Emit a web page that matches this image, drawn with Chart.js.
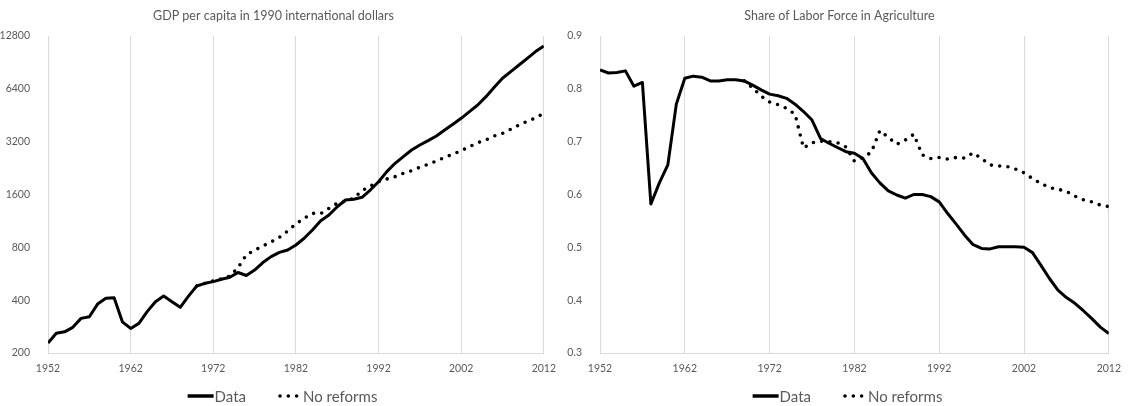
<!DOCTYPE html>
<html>
<head>
<meta charset="utf-8">
<script src="https://cdn.jsdelivr.net/npm/chart.js@4.4.0/dist/chart.umd.min.js"></script>
<style>
  body { margin: 0; background: #fff; }
  .wrap { position: absolute; top: 0; width: 565px; height: 406px; }
</style>
</head>
<body>
<div class="wrap" style="left:0"><canvas id="gdp-chart" width="565" height="406"></canvas></div>
<div class="wrap" style="left:565px"><canvas id="agri-chart" width="565" height="406"></canvas></div>
<script>
// years 1952..2012, one value per year
const years = Array.from({ length: 61 }, (_, i) => 1952 + i);
const yearTicks = [1952, 1962, 1972, 1982, 1992, 2002, 2012];

const gdpTicks = [200, 400, 800, 1600, 3200, 6400, 12800];
const gdpData = [
  228, 259, 264, 280, 315, 322, 380, 410, 413, 301,
  276, 295, 344, 392, 422, 392, 364, 422, 482, 499,
  510, 526, 540, 575, 553, 594, 655, 708, 749, 773,
  825, 901, 1004, 1135, 1223, 1363, 1489, 1502, 1542, 1697,
  1893, 2159, 2409, 2628, 2868, 3063, 3245, 3449, 3731, 4020,
  4348, 4743, 5176, 5776, 6536, 7353, 8020, 8754, 9554, 10430,
  11230
];
const gdpNoReforms = [
  null, null, null, null, null, null, null, null, null, null,
  null, null, null, null, null, null, null, null, 482, 499,
  515, 530, 548, 612, 725, 770, 814, 858, 913, 991,
  1087, 1171, 1250, 1245, 1335, 1426, 1463, 1522, 1682, 1789,
  1893, 1961, 2021, 2113, 2187, 2287, 2379, 2484, 2607, 2712,
  2843, 2996, 3158, 3272, 3449, 3570, 3764, 3983, 4182, 4366,
  4643
];

const agriTicks = [0.3, 0.4, 0.5, 0.6, 0.7, 0.8, 0.9];
const agriData = [
  0.836, 0.830, 0.831, 0.834, 0.805, 0.812, 0.582, 0.622, 0.656, 0.771,
  0.820, 0.824, 0.822, 0.815, 0.815, 0.817, 0.817, 0.815, 0.807, 0.798,
  0.790, 0.787, 0.782, 0.771, 0.757, 0.741, 0.706, 0.697, 0.689, 0.681,
  0.678, 0.668, 0.641, 0.622, 0.607, 0.599, 0.593, 0.600, 0.600, 0.596,
  0.586, 0.564, 0.544, 0.523, 0.505, 0.498, 0.497, 0.501, 0.501, 0.501,
  0.500, 0.490, 0.466, 0.441, 0.419, 0.405, 0.394, 0.380, 0.365, 0.349,
  0.337
];
const agriNoReforms = [
  null, null, null, null, null, null, null, null, null, null,
  null, null, null, null, null, null, null, 0.815, 0.802, 0.786,
  0.775, 0.770, 0.763, 0.752, 0.688, 0.698, 0.701, 0.700, 0.698, 0.690,
  0.663, 0.670, 0.680, 0.721, 0.708, 0.695, 0.703, 0.714, 0.675, 0.668,
  0.670, 0.667, 0.670, 0.669, 0.679, 0.668, 0.656, 0.654, 0.653, 0.648,
  0.641, 0.630, 0.621, 0.613, 0.610, 0.606, 0.597, 0.590, 0.586, 0.580,
  0.577
];

const FONT = 'Lato, "Open Sans", sans-serif';
const GREY = '#595959';
const GRID = '#d9d9d9';

function toPoints(values) {
  return years.map((yr, i) => ({ x: yr, y: values[i] })).filter(p => p.y !== null);
}

function makeSets(solid, dotted) {
  return [
    {
      label: 'Data',
      data: toPoints(solid),
      borderColor: '#000',
      borderWidth: 3,
      borderJoinStyle: 'round',
      pointRadius: 0,
      tension: 0
    },
    {
      label: 'No reforms',
      data: toPoints(dotted),
      borderColor: '#000',
      borderWidth: 3.6,
      borderDash: [0, 8.3],
      borderCapStyle: 'round',
      pointRadius: 0,
      tension: 0
    }
  ];
}

// legend row under the plot: short line sample followed by the label
const legendRow = {
  id: 'legendRow',
  afterDraw(chart) {
    const ctx = chart.ctx;
    const sets = chart.data.datasets;
    ctx.save();
    ctx.font = '15px ' + FONT;
    const widths = sets.map(ds => 27 + ctx.measureText(ds.label).width);
    const total = widths.reduce((a, b) => a + b, 0) + 30 * (sets.length - 1);
    let x = chart.width / 2 - total / 2;
    const y = 396;
    sets.forEach((ds, i) => {
      ctx.strokeStyle = ds.borderColor;
      ctx.beginPath();
      if (ds.borderDash) {
        ctx.lineWidth = ds.borderWidth;
        ctx.lineCap = 'round';
        ctx.setLineDash(ds.borderDash);
        ctx.moveTo(x + 4, y);
        ctx.lineTo(x + 22, y);
      } else {
        ctx.lineWidth = 3.5;
        ctx.lineCap = 'butt';
        ctx.setLineDash([]);
        ctx.moveTo(x, y);
        ctx.lineTo(x + 26, y);
      }
      ctx.stroke();
      ctx.setLineDash([]);
      ctx.fillStyle = GREY;
      ctx.textBaseline = 'middle';
      ctx.fillText(ds.label, x + 27, y + 1);
      x += widths[i] + 30;
    });
    ctx.restore();
  }
};

function makeChart(id, title, sets, yScale, yWidth, padRight) {
  return new Chart(document.getElementById(id), {
    type: 'line',
    data: { datasets: sets },
    plugins: [legendRow],
    options: {
      responsive: false,
      animation: false,
      events: [],
      layout: { padding: { left: 0, right: padRight, top: 0, bottom: 31 } },
      plugins: {
        legend: { display: false },
        tooltip: { enabled: false },
        title: {
          display: true,
          text: title,
          color: GREY,
          font: { family: FONT, size: 12.5, weight: 'normal' },
          padding: { top: 8, bottom: 13 }
        }
      },
      scales: {
        x: {
          type: 'linear',
          min: 1952,
          max: 2012,
          afterBuildTicks: axis => { axis.ticks = yearTicks.map(v => ({ value: v })); },
          afterFit: axis => { axis.height = 22; },
          grid: { color: GRID, drawTicks: false },
          border: { color: GRID },
          ticks: {
            color: GREY,
            font: { family: FONT, size: 10.5 },
            padding: 9,
            maxRotation: 0,
            callback: v => String(v)
          }
        },
        y: Object.assign({
          afterFit: axis => { axis.width = yWidth; },
          grid: { display: false },
          border: { display: false }
        }, yScale)
      }
    }
  });
}

makeChart('gdp-chart', 'GDP per capita in 1990 international dollars',
  makeSets(gdpData, gdpNoReforms),
  {
    type: 'logarithmic',
    min: 200,
    max: 12800,
    afterBuildTicks: axis => { axis.ticks = gdpTicks.map(v => ({ value: v })); },
    ticks: { color: GREY, font: { family: FONT, size: 10.5 }, padding: 10, callback: v => String(v) }
  }, 48, 18);

makeChart('agri-chart', 'Share of Labor Force in Agriculture',
  makeSets(agriData, agriNoReforms),
  {
    type: 'linear',
    min: 0.3,
    max: 0.9,
    afterBuildTicks: axis => { axis.ticks = agriTicks.map(v => ({ value: v })); },
    ticks: { color: GREY, font: { family: FONT, size: 10.5 }, padding: 10, callback: v => v.toFixed(1) }
  }, 35, 16);
</script>
</body>
</html>
